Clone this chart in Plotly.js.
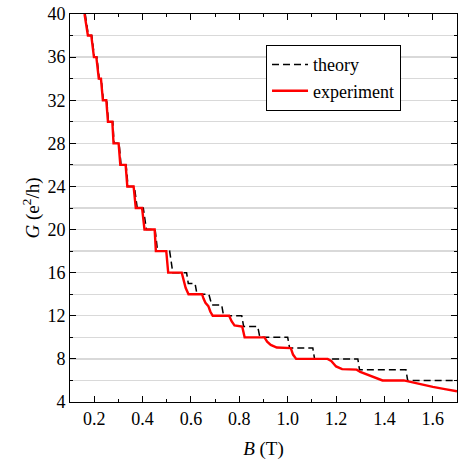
<!DOCTYPE html>
<html>
<head>
<meta charset="utf-8">
<script src="https://cdn.plot.ly/plotly-3.0.1.min.js"></script>
<style>html,body{margin:0;padding:0;background:#fff;}#chart{width:458px;height:464px;}</style>
</head>
<body>
<div id="chart"></div>
<script>
// Theory staircase (B in T, G in e^2/h)
const theoryB = [0.163,0.176,0.190,0.201,0.211,0.221,0.229,0.238,0.252,0.259,0.277,0.282,0.303,0.311,0.332,0.340,0.366,0.378,0.403,0.416,0.452,0.462,0.512,0.525,0.582,0.589,0.617,0.625,0.674,0.686,0.727,0.735,0.810,0.818,0.876,0.885,1.000,1.008,1.104,1.111,1.290,1.297,1.489,1.496,1.700];
const theoryG = [40,38,38,36,36,34,34,32,32,30,30,28,28,26,26,24,24,22,22,20,20,18,18,16,16,15,15,14,14,13,13,12,12,11,11,10,10,9,9,8,8,7,7,6,6];

// Experiment
const expB = [0.160,0.174,0.188,0.199,0.209,0.219,0.228,0.236,0.250,0.257,0.275,0.280,0.301,0.308,0.330,0.337,0.363,0.372,0.398,0.408,0.450,0.455,0.498,0.506,0.562,0.570,0.578,0.590,0.646,0.652,0.660,0.672,0.680,0.690,0.758,0.768,0.780,0.812,0.822,0.904,0.915,0.930,0.955,1.013,1.022,1.035,1.165,1.180,1.200,1.225,1.285,1.300,1.330,1.360,1.392,1.480,1.500,1.550,1.600,1.650,1.700];
const expG = [40,38,38,36,36,34,34,32,32,30,30,28,28,26,26,24,24,22,22,20,20,18,18,16,16,15.2,14.6,14,14,13.6,13.2,12.9,12.4,12,12,11.5,11.1,11,10,10,9.6,9.3,9.05,9,8.4,8,8,7.8,7.3,7.05,7,6.8,6.55,6.3,6,6,5.9,5.6,5.4,5.2,5.0];

const seriesNames = ["theory", "experiment"];

const serif = "Liberation Serif";

const traces = [
  {x: theoryB, y: theoryG, name: seriesNames[0], mode: "lines",
   line: {color: "#000000", width: 1.5, dash: "7px,4px"}},
  {x: expB, y: expG, name: seriesNames[1], mode: "lines",
   line: {color: "#ff0000", width: 2.4}}
];

const layout = {
  width: 458, height: 464,
  margin: {l: 70, r: 1, t: 14, b: 62},
  paper_bgcolor: "#ffffff", plot_bgcolor: "#ffffff",
  font: {family: serif, size: 18, color: "#000"},
  showlegend: true,
  legend: {x: 0.506, y: 0.835, xanchor: "left", yanchor: "middle",
    bordercolor: "#000", borderwidth: 1.2, bgcolor: "#fff", itemwidth: 36,
    font: {family: serif, size: 18, color: "#000"}, tracegroupgap: 0},
  xaxis: {
    range: [0.1, 1.7], tick0: 0, dtick: 0.2, tickformat: ".1f",
    ticks: "inside", ticklen: 6, tickwidth: 1, tickcolor: "#000",
    minor: {dtick: 0.1, tick0: 0, ticks: "inside", ticklen: 3, tickcolor: "#000", showgrid: false},
    showline: true, linecolor: "#000", linewidth: 1, mirror: "allticks",
    showgrid: false, zeroline: false,
    tickfont: {family: serif, size: 18, color: "#000"},
    title: {text: "<i>B</i> (T)", font: {family: serif, size: 19}, standoff: 14}
  },
  yaxis: {
    range: [4, 40], tick0: 0, dtick: 4,
    ticks: "inside", ticklen: 6, tickwidth: 1, tickcolor: "#000",
    minor: {dtick: 2, tick0: 0, ticks: "inside", ticklen: 3, tickcolor: "#000", showgrid: true, gridcolor: "#d9d9d9", gridwidth: 1.3},
    showline: true, linecolor: "#000", linewidth: 1, mirror: "allticks",
    showgrid: true, gridcolor: "#d9d9d9", gridwidth: 1.3, zeroline: false,
    tickfont: {family: serif, size: 18, color: "#000"},
    title: {text: "<i>G</i> (e<sup>2</sup>/h)", font: {family: serif, size: 19}, standoff: 2}
  }
};

Plotly.newPlot("chart", traces, layout, {displayModeBar: false, staticPlot: true});
</script>
</body>
</html>
